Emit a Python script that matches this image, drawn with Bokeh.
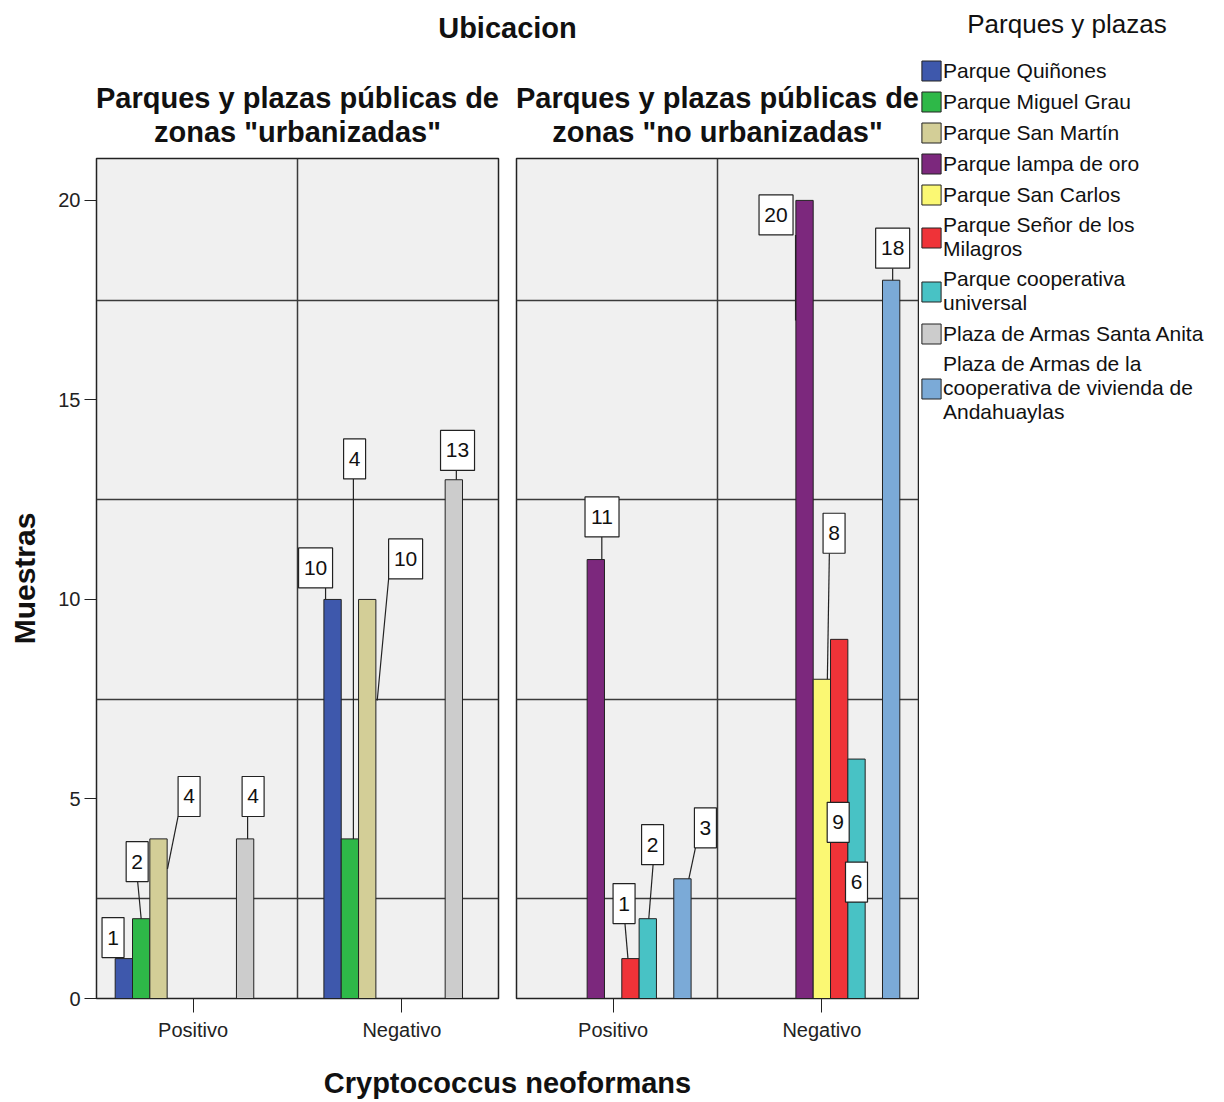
from bokeh.plotting import figure
from bokeh.models import Range1d, FixedTicker, Legend, LegendItem
from bokeh.layouts import row, column
from bokeh.embed import file_html
from bokeh.resources import INLINE
from bokeh.core.properties import value

# ---------------- data ----------------
series = ["Parque Quiñones", "Parque Miguel Grau", "Parque San Martín", "Parque lampa de oro",
          "Parque San Carlos", "Parque Señor de los\nMilagros", "Parque cooperativa\nuniversal",
          "Plaza de Armas Santa Anita",
          "Plaza de Armas de la\ncooperativa de vivienda de\nAndahuaylas"]
colors = ["#3E58AC", "#2EB848", "#D3CE97", "#7C287D", "#FBF873",
          "#EF3338", "#48C2C5", "#CCCCCC", "#7BAAD7"]
categories = ["Positivo", "Negativo"]
urb_positivo = [1, 2, 4, 0, 0, 0, 0, 4, 0]
urb_negativo = [10, 4, 10, 0, 0, 0, 0, 13, 0]
nourb_positivo = [0, 0, 0, 11, 0, 1, 2, 0, 3]
nourb_negativo = [0, 0, 0, 20, 8, 9, 6, 0, 18]
y_ticks = [0, 5, 10, 15, 20]
main_title = "Ubicacion"
panel_titles = [("Parques y plazas públicas de", 'zonas "urbanizadas"'),
                ("Parques y plazas públicas de", 'zonas "no urbanizadas"')]
x_title = "Cryptococcus neoformans"
y_title = "Muestras"
legend_title = "Parques y plazas"

# label box placement (pixel offsets from bar top centre) and leader lines (px)
place_urb = {
    (0, 0): (-10.8, 21, None),
    (0, 1): (-4, 57, (0, 0, -3.5, 37)),
    (0, 2): (30.6, 42.4, (9, -30, 19.6, 22.4)),
    (0, 7): (8, 42.4, (2.5, 0, 2.5, 22.4)),
    (1, 0): (-17, 31.5, (-7, 0, -7, 11.5)),
    (1, 1): (4.7, 380, (3.5, 0, 3.5, 360)),
    (1, 2): (38.4, 40.5, (10, -101, 21.4, 20.5)),
    (1, 7): (3.7, 29.3, (2.5, 0, 2.5, 9.3)),
}
place_nourb = {
    (0, 3): (6.2, 42.6, (6, 0, 6, 22.6)),
    (0, 5): (-6.4, 55, (-2.5, 0, -5.5, 35)),
    (0, 6): (4.8, 74, (1, 0, 5.3, 54)),
    (0, 8): (23, 51, (6.4, 0, 13, 31)),
    (1, 3): (-28.5, -14.5, (-9, -120, -9, -34.5)),
    (1, 4): (12.2, 146, (5.5, 0, 7.5, 126)),
    (1, 5): (-1, -183, None),
    (1, 6): (0, -123, None),
    (1, 8): (1.5, 32, (1.5, 0, 1.5, 12)),
}

# ---------------- geometry ----------------
FRAME_W, FRAME_H = 402, 840
X0, X1 = 0.537, 2.463
Y0, Y1 = 0.0, 21.05
PX_X = FRAME_W / (X1 - X0)
PX_Y = FRAME_H / (Y1 - Y0)
SLOT = 0.083
FONT = "Liberation Sans"
GRID_C = "#3a3a3a"
P1_LEFT, P1_RIGHT, P2_LEFT, P2_RIGHT = 96, 8, 10, 1
TOP_B, BOT_B = 2, 47
HEAD_H, FOOT_H = 156, 55
PANEL_H = TOP_B + FRAME_H + BOT_B
TOTAL_H = HEAD_H + PANEL_H + FOOT_H
LEFT_W = P1_LEFT + FRAME_W + P1_RIGHT + P2_LEFT + FRAME_W + P2_RIGHT
LEG_W = 295


def make_panel(pos_vals, neg_vals, places, show_y, left, right):
    p = figure(width=left + FRAME_W + right, height=PANEL_H,
               x_range=Range1d(X0, X1), y_range=Range1d(Y0, Y1),
               output_backend="svg", toolbar_location=None,
               y_axis_location="left" if show_y else None,
               min_border_left=left, min_border_right=right,
               min_border_top=TOP_B, min_border_bottom=BOT_B,
               background_fill_color="#f0f0f0", border_fill_color="white",
               outline_line_color="#222", outline_line_width=1.5)

    p.xaxis.ticker = FixedTicker(ticks=[1, 2])
    p.xaxis.major_label_overrides = {1: categories[0], 2: categories[1]}
    p.xaxis.major_tick_out = 14
    p.xaxis.major_tick_in = 0
    p.xaxis.minor_tick_line_color = None
    p.xaxis.major_label_standoff = 6
    p.xaxis.major_label_text_font = FONT
    p.xaxis.major_label_text_font_size = "20px"
    p.xaxis.major_label_text_color = "#222"
    p.xaxis.axis_line_color = "#222"
    p.xaxis.major_tick_line_color = "#222"

    if show_y:
        p.yaxis.ticker = FixedTicker(ticks=y_ticks)
        p.yaxis.major_tick_out = 12
        p.yaxis.major_tick_in = 0
        p.yaxis.minor_tick_line_color = None
        p.yaxis.major_label_standoff = 4
        p.yaxis.major_label_text_font = FONT
        p.yaxis.major_label_text_font_size = "20px"
        p.yaxis.major_label_text_color = "#222"
        p.yaxis.axis_line_color = "#222"
        p.yaxis.major_tick_line_color = "#222"
        p.yaxis.axis_label = y_title
        p.yaxis.axis_label_text_font = FONT
        p.yaxis.axis_label_text_font_style = "bold"
        p.yaxis.axis_label_text_font_size = "30px"
        p.yaxis.axis_label_text_color = "#111"
        p.yaxis.axis_label_standoff = 14

    p.xgrid.ticker = FixedTicker(ticks=[1.5])
    p.ygrid.ticker = FixedTicker(ticks=[2.5, 7.5, 12.5, 17.5])
    p.grid.grid_line_color = GRID_C
    p.grid.grid_line_width = 1.5

    vals_by_cat = (pos_vals, neg_vals)
    for k in range(len(series)):
        xs, tops = [], []
        for ci, vals in enumerate(vals_by_cat):
            if vals[k] > 0:
                xs.append(ci + 1 + (k - 4) * SLOT)
                tops.append(vals[k])
        if xs:
            p.vbar(x=xs, top=tops, bottom=0, width=SLOT, fill_color=colors[k],
                   line_color="#222", line_width=1)

    # value labels
    lx0, ly0, lx1, ly1 = [], [], [], []
    bx, by, bw, bt = [], [], [], []
    for (ci, k), (dx, dy, lead) in places.items():
        v = vals_by_cat[ci][k]
        xc = ci + 1 + (k - 4) * SLOT
        if lead is not None:
            sx, sy, ex, ey = lead
            lx0.append(xc + sx / PX_X); ly0.append(v + sy / PX_Y)
            lx1.append(xc + ex / PX_X); ly1.append(v + ey / PX_Y)
        bx.append(xc + dx / PX_X)
        by.append(v + dy / PX_Y)
        bt.append(str(v))
        bw.append(12 * len(str(v)) + 10)
    p.segment(x0=lx0, y0=ly0, x1=lx1, y1=ly1, line_color="#222", line_width=1.2)
    p.rect(x=bx, y=by, width=bw, height=40, width_units="screen", height_units="screen",
           fill_color="white", line_color="#222", line_width=1.2)
    p.text(x=bx, y=by, text=bt, text_align="center", text_baseline="middle",
           text_font=value(FONT), text_font_size="21px", text_color="#111")
    return p


p1 = make_panel(urb_positivo, urb_negativo, place_urb, True, P1_LEFT, P1_RIGHT)
p2 = make_panel(nourb_positivo, nourb_negativo, place_nourb, False, P2_LEFT, P2_RIGHT)


def text_canvas(w, h):
    f = figure(width=w, height=h, x_range=Range1d(0, w), y_range=Range1d(0, h),
               output_backend="svg", toolbar_location=None,
               x_axis_location=None, y_axis_location=None,
               min_border_left=0, min_border_right=0, min_border_top=0, min_border_bottom=0,
               outline_line_color=None, background_fill_color="white", border_fill_color="white")
    f.grid.visible = False
    return f


def put_text(f, xs, ys, texts, size, style):
    f.text(x=xs, y=ys, text=texts, text_align="center", text_baseline="middle",
           text_font=value(FONT), text_font_style=style, text_font_size=size,
           text_color="#111")


# header: overall title + the two panel titles (centred over each frame)
c1 = P1_LEFT + FRAME_W / 2
c2 = P1_LEFT + FRAME_W + P1_RIGHT + P2_LEFT + FRAME_W / 2
cm = (P1_LEFT + P1_LEFT + FRAME_W + P1_RIGHT + P2_LEFT + FRAME_W) / 2
header = text_canvas(LEFT_W, HEAD_H)
put_text(header, [cm], [HEAD_H - 27], [main_title], "29px", "bold")
put_text(header, [c1, c2], [HEAD_H - 97] * 2, [t[0] for t in panel_titles], "29px", "bold")
put_text(header, [c1, c2], [HEAD_H - 131] * 2, [t[1] for t in panel_titles], "29px", "bold")

footer = text_canvas(LEFT_W, FOOT_H)
put_text(footer, [cm], [18], [x_title], "29px", "bold")

LEG_HEAD = 46
leg_head = text_canvas(LEG_W, LEG_HEAD)
put_text(leg_head, [LEG_W / 2], [LEG_HEAD - 23], [legend_title], "26px", "normal")

# legend figure
lf = figure(width=LEG_W, height=TOTAL_H - LEG_HEAD, x_range=Range1d(0, 1), y_range=Range1d(0, 1),
            output_backend="svg", toolbar_location=None,
            x_axis_location=None, y_axis_location=None,
            min_border_left=0, min_border_right=0, min_border_top=12, min_border_bottom=0,
            outline_line_color=None, background_fill_color="white")
lf.grid.visible = False
items = []
for name, c in zip(series, colors):
    # swatch-only renderer, kept outside the visible range of the legend figure
    r = lf.vbar(x=[0.5], top=[-1], bottom=[-2], width=0.1, fill_color=c,
                line_color="#222", line_width=1)
    items.append(LegendItem(label=name, renderers=[r]))
legend = Legend(items=items, location="top_left", padding=0, margin=0, spacing=6,
                glyph_width=24, glyph_height=25, label_standoff=0,
                label_text_font=FONT, label_text_font_size="21px", label_text_color="#111",
                label_text_line_height=1.2,
                border_line_alpha=0, background_fill_alpha=0)
lf.add_layout(legend)

layout = row(column(header, row(p1, p2), footer), column(leg_head, lf))
open("out.html", "w").write(file_html(layout, INLINE))
